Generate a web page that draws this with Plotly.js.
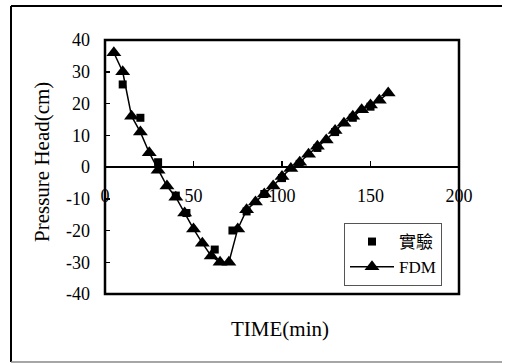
<!DOCTYPE html>
<html><head><meta charset="utf-8">
<script src="https://cdn.plot.ly/plotly-3.0.1.min.js"></script>
<style>html,body{margin:0;padding:0;background:#fff;}#chart{width:508px;height:363px;}</style>
</head><body><div id="chart"></div>
<script>
// FDM simulation
const fdmTime = [5,10,15,20,25,30,35,40,45,50,55,60,65,70,75,80,85,90,95,100,105,110,115,120,125,130,135,140,145,150,155,160];
const fdmHead = [36,30,16,11,4.5,-1,-6,-9.5,-14.5,-19.5,-24,-28,-30,-30,-19.5,-13.5,-11,-8.5,-6,-3,-0.5,1.5,4,6.5,8.5,11.5,13.8,16,18,19.5,21,23.3];
// Experimental data (實驗)
const expTime = [10,20,30,40,46,62,72,80,90,100,110,120,130,140,150];
const expHead = [26,15.5,1.5,-9,-14.5,-26,-20,-14,-8.5,-3.5,1,6,11,15.5,19];
const xTicks = [0,50,100,150,200];
const yTicks = [-40,-30,-20,-10,0,10,20,30,40];

const serif = "Liberation Serif, Times New Roman, serif";
const L = 105, R = 49, T = 40, B = 69, W = 508, H = 363;
const pw = W - L - R, ph = H - T - B;
const px = v => (v - L) / pw;
const py = v => (H - B - v) / ph;

const traces = [
  {x: expTime, y: expHead, name: '實驗', mode: 'markers', type: 'scatter',
   marker: {symbol: 'square', size: 8, color: '#000'}},
  {x: fdmTime, y: fdmHead, name: 'FDM', mode: 'lines+markers', type: 'scatter',
   line: {color: '#000', width: 1.5},
   marker: {symbol: 'triangle-up', size: 13, color: '#000'}}
];

const layout = {
  width: W, height: H,
  margin: {l: L, r: R, t: T, b: B, pad: 0},
  paper_bgcolor: '#fff', plot_bgcolor: '#fff',
  showlegend: true,
  legend: {x: px(344), y: py(223), xanchor: 'left', yanchor: 'top',
    bgcolor: '#fff', bordercolor: '#555', borderwidth: 1, itemwidth: 44,
    font: {family: serif + ", Noto Sans CJK TC", size: 17, color: '#000'},
    tracegroupgap: 2},
  xaxis: {range: [0, 200], tickvals: xTicks, ticktext: xTicks.map(String),
    anchor: 'free', position: 0.5, showgrid: false, zeroline: false,
    showline: true, linecolor: '#000', linewidth: 2,
    ticks: 'inside', ticklen: 5, tickwidth: 1.5, tickcolor: '#000',
    tickfont: {family: serif, size: 18, color: '#000'}, ticklabelstandoff: 12},
  yaxis: {range: [-40, 40], tickvals: yTicks, ticktext: yTicks.map(String),
    showgrid: false, zeroline: false, showline: false,
    ticks: 'inside', ticklen: 5, tickwidth: 1.5, tickcolor: '#000',
    tickfont: {family: serif, size: 18, color: '#000'}, ticklabelstandoff: 14},
  shapes: [
    {type: 'rect', xref: 'paper', yref: 'paper', x0: 0, x1: 1, y0: 0, y1: 1,
     line: {color: '#000', width: 2.5}},
    {type: 'line', xref: 'paper', yref: 'paper', x0: px(11), x1: px(11), y0: py(6), y1: py(362),
     line: {color: '#000', width: 2}},
    {type: 'line', xref: 'paper', yref: 'paper', x0: px(11), x1: px(502), y0: py(6), y1: py(6),
     line: {color: '#000', width: 2}},
    {type: 'line', xref: 'paper', yref: 'paper', x0: px(11), x1: px(502), y0: py(362), y1: py(362),
     line: {color: '#888', width: 1.5}}
  ],
  annotations: [
    {text: 'Pressure Head(cm)', xref: 'paper', yref: 'paper', x: px(42), y: py(162),
     xanchor: 'center', yanchor: 'middle',
     textangle: -90, showarrow: false, font: {family: serif, size: 21, color: '#000'}},
    {text: 'TIME(min)', xref: 'paper', yref: 'paper', x: px(280), y: py(329),
     xanchor: 'center', yanchor: 'middle',
     showarrow: false, font: {family: serif, size: 21, color: '#000'}}
  ]
};

Plotly.newPlot('chart', traces, layout, {displayModeBar: false, staticPlot: true});
</script></body></html>
